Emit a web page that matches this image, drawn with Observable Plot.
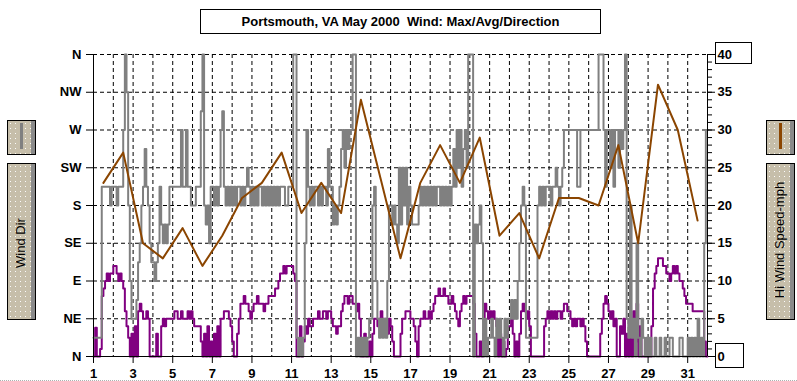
<!DOCTYPE html>
<html>
<head>
<meta charset="utf-8">
<script src="https://cdn.jsdelivr.net/npm/d3@7"></script>
<script src="https://cdn.jsdelivr.net/npm/@observablehq/plot@0.6"></script>
<style>
  html, body { margin: 0; padding: 0; background: #fff; }
  #wrap { position: relative; width: 797px; height: 381px; overflow: hidden; background: #fff; font-family: "Liberation Sans", Arial, sans-serif; }
  #chart { position: absolute; left: 0; top: 0; }
  .title { position: absolute; left: 200px; top: 9px; width: 399px; height: 23px; border: 1px solid #000; background: #fff;
           font: bold 13px "Liberation Sans", Arial, sans-serif; text-align: center; line-height: 23px; white-space: pre; }
  .lbox { position: absolute; border: 1px solid #000; background-color: #c6beaa;
          background-image: radial-gradient(circle, rgba(255,255,255,0.95) 0.6px, transparent 0.9px);
          background-size: 5px 5px; box-shadow: inset -4px 0 0 #8a8a8a; box-sizing: border-box; }
  .lsample { position: absolute; width: 3px; }
  .ltext { position: absolute; font: 13px "Liberation Sans", Arial, sans-serif; color: #000; white-space: nowrap;
           transform: translate(-50%, -50%) rotate(-90deg); }
  .vbox { position: absolute; border: 1px solid #000; box-sizing: border-box; }
  .bottomline { position: absolute; left: 0; top: 380px; width: 797px; border-top: 1px dotted #b0b0b0; }
</style>
</head>
<body>
<div id="wrap">
  <div id="chart"></div>
  <div class="title">Portsmouth, VA May 2000  Wind: Max/Avg/Direction</div>
  <div class="lbox" style="left:7px;top:120px;width:29px;height:35px;"></div>
  <div class="lsample" style="left:20px;top:123px;height:26px;background:#808080;"></div>
  <div class="lbox" style="left:7px;top:163px;width:29px;height:157px;"></div>
  <div class="ltext" style="left:20px;top:243px;">Wind Dir</div>
  <div class="lbox" style="left:766px;top:120px;width:29px;height:35px;"></div>
  <div class="lsample" style="left:779px;top:123px;height:26px;background:#8b4500;"></div>
  <div class="lbox" style="left:766px;top:163px;width:29px;height:157px;"></div>
  <div class="ltext" style="left:779px;top:240px;">Hi Wind Speed-mph</div>
  <div class="vbox" style="left:715px;top:42px;width:37px;height:22px;"></div>
  <div class="vbox" style="left:715px;top:343px;width:29px;height:25px;"></div>
  <div class="bottomline"></div>
</div>
<script>
// ---- data ----
const dirLabels = ["N", "NE", "E", "SE", "S", "SW", "W", "NW", "N"];
const speedTicks = [0, 5, 10, 15, 20, 25, 30, 35, 40];
const dayLabels = [1, 3, 5, 7, 9, 11, 13, 15, 17, 19, 21, 23, 25, 27, 29, 31];
const gridDays = d3.range(1, 33);

// daily maximum wind speed (mph), days 1..31, plotted at midday
const maxSpeed = [23, 27, 15, 13, 17, 12, 16, 21, 23, 27, 19, 23, 19, 34, 23.5, 13,
                  23, 28, 23, 29, 16, 19, 13, 21, 21, 20, 28, 15, 36, 30, 18];

const stepsPerDay = 12;
// average wind speed (mph), 12 readings per day (one row per day)
const avgSpeed = [
  0, 3.8, 0, 0, 1, 8, 9, 10, 11, 10, 11, 11,
  12, 12, 11, 10, 11, 10, 9, 6, 4, 2.5, 0, 3,
  0, 4, 0, 6, 7, 6, 5, 5, 6, 5, 0, 0,
  0, 0, 3, 0, 0, 4, 5, 4, 5, 5, 5, 5,
  5, 6, 6, 5, 5, 6, 5, 5, 5, 6, 5, 6,
  5, 4, 4, 4, 4, 2, 0, 3, 0, 4, 0, 2,
  0, 3, 0, 4, 0, 5, 5, 6, 6, 6, 5, 4,
  2, 0, 0, 3, 5, 7, 7, 8, 7, 7, 6, 5,
  6, 7, 7, 8, 7, 7, 7, 6, 7, 7, 8, 8,
  8, 8, 9, 9, 10, 11, 11, 12, 11, 12, 12, 12,
  12, 11, 10, 0, 0, 4, 0, 2, 4, 3, 5, 4,
  4, 5, 5, 5, 6, 5, 5, 6, 6, 5, 6, 6,
  5, 4, 4, 3, 4, 4, 6, 7, 8, 8, 7, 8,
  8, 7, 7, 6, 7, 5, 0, 0, 3, 0, 0, 2,
  0, 3, 5, 5, 4, 5, 6, 5, 4, 5, 3, 5,
  4, 2, 0, 0, 0, 0, 3, 5, 5, 6, 6, 6,
  5, 5, 4, 2, 0, 4, 5, 5, 6, 5, 5, 6,
  5, 6, 7, 8, 8, 9, 8, 8, 9, 8, 8, 7,
  7, 8, 7, 6, 5, 4, 6, 7, 8, 7, 8, 8,
  8, 8, 7, 3, 0, 0, 2, 0, 3, 7, 6, 5,
  6, 5, 6, 5, 4, 0, 3, 0, 2, 0, 1, 4,
  4, 5, 3, 0, 2, 0, 3, 6, 7, 6, 5, 6,
  4, 0, 0, 0, 0, 0, 0, 0, 0, 4, 5, 6,
  5, 6, 5, 6, 5, 6, 6, 5, 6, 7, 7, 6,
  6, 5, 4, 5, 4, 5, 5, 4, 5, 4, 2, 0,
  0, 0, 0, 0, 0, 0, 0, 3, 5, 7, 8, 7,
  6, 5, 6, 4, 5, 0, 0, 4, 3, 5, 0, 3,
  0, 5, 0, 6, 2, 7, 0, 4, 0, 0, 0, 0,
  0, 0, 4, 9, 11, 12, 13, 13, 13, 12, 12, 11,
  11, 10, 11, 12, 11, 12, 11, 10, 10, 9, 8, 7,
  7, 7, 7, 6, 6, 6, 6, 6, 6, 6, 2, 0
];
// wind direction (compass degrees), 12 readings per day (one row per day)
const windDir = [
  22.5,22.5,22.5,22.5,22.5,202.5,202.5,202.5,202.5,202.5,180,202.5,
  202.5,202.5,180,202.5,202.5,202.5,270,360,315,180,90,45,
  45,45,67.5,112.5,135,180,202.5,247.5,202.5,180,135,112.5,
  112.5,90,112.5,135,202.5,157.5,135,157.5,135,157.5,202.5,202.5,
  202.5,202.5,202.5,202.5,202.5,270,202.5,202.5,270,202.5,202.5,180,
  180,180,202.5,202.5,202.5,292.5,360,180,157.5,180,135,202.5,
  202.5,180,202.5,180,202.5,270,292.5,202.5,180,202.5,180,202.5,
  180,202.5,180,202.5,202.5,180,202.5,180,202.5,225,202.5,180,
  202.5,180,202.5,180,202.5,202.5,180,202.5,180,202.5,180,202.5,
  180,202.5,180,202.5,180,202.5,202.5,202.5,180,180,202.5,202.5,
  202.5,360,360,22.5,0,22.5,0,22.5,135,270,202.5,180,
  202.5,180,202.5,202.5,180,202.5,180,202.5,202.5,180,247.5,202.5,
  202.5,157.5,180,157.5,180,202.5,247.5,270,225,270,247.5,270,
  270,360,360,0,22.5,0,22.5,0,22.5,0,22.5,45,
  45,180,202.5,90,45,22.5,45,22.5,45,22.5,90,180,
  180,157.5,180,157.5,135,225,157.5,225,180,225,157.5,202.5,
  180,157.5,157.5,157.5,157.5,180,202.5,180,202.5,180,202.5,180,
  202.5,180,202.5,180,202.5,202.5,180,202.5,180,202.5,180,202.5,
  180,202.5,247.5,202.5,270,225,270,202.5,247.5,270,225,360,
  360,360,0,157.5,135,157.5,180,135,0,45,0,22.5,
  22.5,45,22.5,0,45,22.5,45,22.5,0,45,22.5,45,
  45,67.5,45,67.5,45,90,135,180,202.5,180,22.5,22.5,
  22.5,22.5,22.5,22.5,22.5,180,202.5,180,202.5,180,202.5,202.5,
  202.5,180,202.5,202.5,225,202.5,180,202.5,225,270,270,270,
  270,270,270,270,270,202.5,202.5,270,270,270,270,270,
  270,270,270,270,270,270,360,360,360,270,202.5,270,
  270,225,270,202.5,270,270,225,270,247.5,270,360,45,
  22.5,180,22.5,45,0,135,22.5,0,45,22.5,0,22.5,
  0,22.5,0,0,22.5,0,0,22.5,0,0,22.5,0,
  0,22.5,22.5,0,0,0,0,22.5,22.5,0,0,0,
  22.5,0,22.5,0,22.5,0,45,0,22.5,0,135,270
];

// ---- build tables ----
const maxRows = maxSpeed.map((v, i) => ({t: i + 1.5, v}));
const avgRows = avgSpeed.map((v, i) => ({t: 1 + i / stepsPerDay, v}));
avgRows.push({t: 1 + avgSpeed.length / stepsPerDay, v: avgSpeed[avgSpeed.length - 1]});
const dirRows = windDir.map((deg, i) => ({t: 1 + i / stepsPerDay, v: deg / 9}));
dirRows.push({t: 1 + windDir.length / stepsPerDay, v: windDir[windDir.length - 1] / 9});

const dash = "4,3";
const chart = Plot.plot({
  width: 797,
  height: 381,
  marginLeft: 93,
  marginRight: 90,
  marginTop: 54,
  marginBottom: 25,
  x: {domain: [1, 32], label: null},
  y: {domain: [0, 40], label: null},
  style: "font: bold 13px 'Liberation Sans', Arial, sans-serif; background: transparent; overflow: visible;",
  marks: [
    Plot.gridX(gridDays, {stroke: "#000", strokeOpacity: 1, strokeDasharray: dash}),
    Plot.gridY(speedTicks, {stroke: "#000", strokeOpacity: 1, strokeDasharray: dash}),
    Plot.line(avgRows, {x: "t", y: "v", stroke: "#800080", strokeWidth: 2, curve: "step-after"}),
    Plot.line(dirRows, {x: "t", y: "v", stroke: "#808080", strokeWidth: 2, curve: "step-after"}),
    Plot.line(maxRows, {x: "t", y: "v", stroke: "#8b4500", strokeWidth: 2}),
    Plot.ruleX([1], {stroke: "#000"}),
    Plot.ruleX([32], {stroke: "#000"}),
    Plot.ruleY([0], {stroke: "#000"}),
    Plot.axisY(speedTicks, {anchor: "left", tickSize: 7, tickPadding: 5, tickFormat: (d, i) => dirLabels[i]}),
    Plot.axisY(d3.range(0, 41), {anchor: "right", tickSize: 4, tickFormat: () => ""}),
    Plot.axisY(speedTicks, {anchor: "right", tickSize: 7, tickPadding: 3}),
    Plot.axisX(dayLabels, {anchor: "bottom", tickSize: 7, tickPadding: 5})
  ]
});
document.getElementById("chart").appendChild(chart);
</script>
</body>
</html>
